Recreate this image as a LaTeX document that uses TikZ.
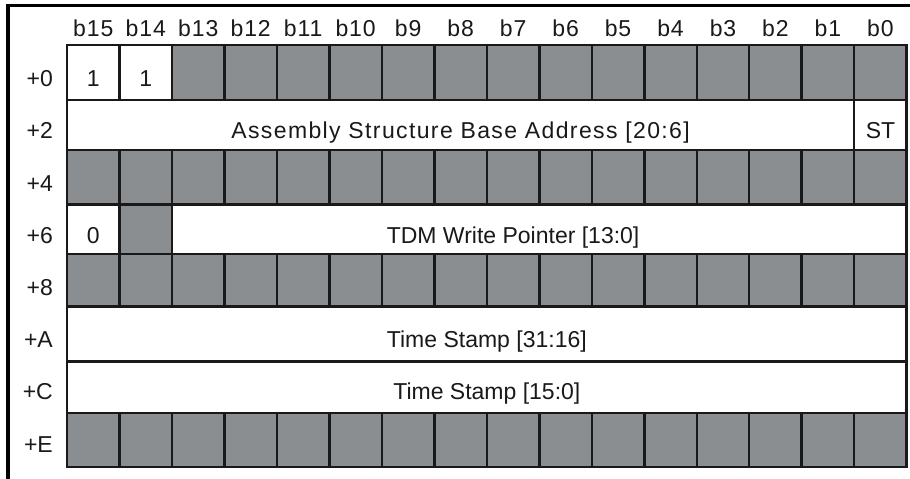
\documentclass[tikz,border=0pt]{standalone}
\usepackage{fontspec}
\setmainfont{Liberation Sans}
\definecolor{cellgray}{RGB}{138,142,144}
\definecolor{linegray}{RGB}{25,25,25}
\def\rowedges{{45,100,150,204.5,254,306.5,361.5,413,467}}
\def\cw{52.48}
% #1 name, #2 row, #3 first column (0 = b15), #4 number of columns, #5 style, #6 text
\newcommand\regcell[6]{%
  \pgfmathsetmacro\rtop{\rowedges[#2]}%
  \pgfmathsetmacro\rbot{\rowedges[#2+1]}%
  \pgfmathsetmacro\rht{\rbot-\rtop}%
  \node[#5, minimum width={#4*\cw pt}, minimum height={\rht pt}] (#1) at ({67+(#3+#4/2)*\cw}, {(\rtop+\rbot)/2}) {};%
  \node[celltext] (#1-t) at ({67+(#3+#4/2)*\cw}, {78.5+52.2*#2+8.2}) {#6};%
}
\begin{document}
\begin{tikzpicture}[x=1pt,y=-1pt,
  cellbase/.style={draw=linegray, line width=2.5pt, inner sep=0pt, outer sep=0pt},
  wcell/.style={cellbase, fill=white},
  gcell/.style={cellbase, fill=cellgray},
  celltext/.style={inner sep=0pt, anchor=base},
  hdr/.style={inner sep=0pt, anchor=base},
  every node/.append style={font=\fontsize{23}{26}\selectfont, text=black!90}]
\useasboundingbox (0,0) rectangle (910,479);
\fill[white] (0,0) rectangle (910,479);
% frame
\coordinate (fTL) at (8,5.3);
\coordinate (fTR) at (910,5.3);
\coordinate (fBL) at (8,479);
\draw[line width=3.5pt, line cap=rect] (fTR) -- (fTL) -- (fBL);
% column headers
\foreach \i in {0,...,15}{
  \pgfmathtruncatemacro\bit{15-\i}
  \node[hdr] (h\bit) at ({67+(\i+0.5)*\cw}, 36.5) {\addfontfeatures{LetterSpace=4}b\bit};
}
% row labels
\foreach \r/\t in {0/+0,1/+2,2/+4,3/+6,4/+8,5/+A,6/+C,7/+E}{
  \node[hdr, anchor=base east] (lab\r) at (53, {78.5+52.2*\r+8.2}) {\t};
}
% row +0
\regcell{r0c15}{0}{0}{1}{wcell}{1}
\regcell{r0c14}{0}{1}{1}{wcell}{1}
\foreach \i in {2,...,15}{ \regcell{r0g\i}{0}{\i}{1}{gcell}{} }
% row +2
\regcell{r2addr}{1}{0}{15}{wcell}{\addfontfeatures{LetterSpace=6}Assembly Structure Base Address [20:6]}
\regcell{r2st}{1}{15}{1}{wcell}{ST}
% row +4
\foreach \i in {0,...,15}{ \regcell{r4g\i}{2}{\i}{1}{gcell}{} }
% row +6
\regcell{r6c15}{3}{0}{1}{wcell}{0}
\regcell{r6c14}{3}{1}{1}{gcell}{}
\regcell{r6tdm}{3}{2}{14}{wcell}{}
\node[celltext] (r6tdm-label) at ({67+8.5*\cw}, {78.5+52.2*3+8.2}) {TDM Write Pointer [13:0]};
% row +8
\foreach \i in {0,...,15}{ \regcell{r8g\i}{4}{\i}{1}{gcell}{} }
% row +A
\regcell{rAts}{5}{0}{16}{wcell}{Time Stamp [31:16]}
% row +C
\regcell{rCts}{6}{0}{16}{wcell}{Time Stamp [15:0]}
% row +E
\foreach \i in {0,...,15}{ \regcell{rEg\i}{7}{\i}{1}{gcell}{} }
\end{tikzpicture}
\end{document}
